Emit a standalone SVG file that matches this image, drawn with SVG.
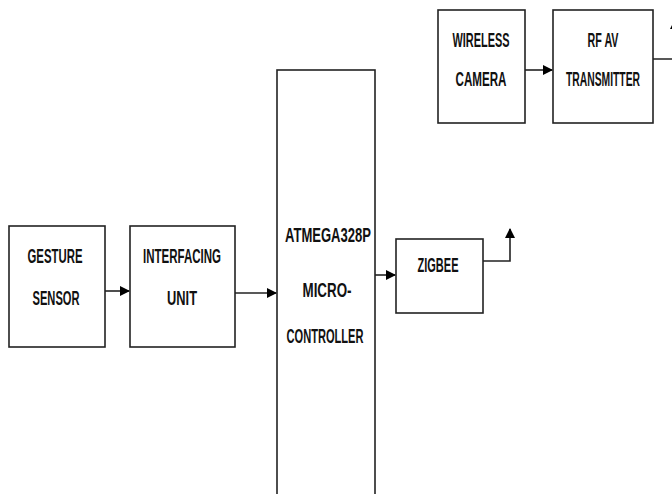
<svg xmlns="http://www.w3.org/2000/svg" width="672" height="494" viewBox="0 0 672 494">
<defs>
<marker id="ah" viewBox="0 0 10 10" refX="9" refY="5" markerWidth="10" markerHeight="10" markerUnits="userSpaceOnUse" orient="auto">
<path d="M0,0 L10,5 L0,10 z" fill="#000"/>
</marker>
</defs>
<style>
.box{fill:#fff;stroke:#222;stroke-width:1.6}
.t{font-family:"Liberation Sans",Arial,sans-serif;font-weight:bold;font-size:20px;fill:#111;text-anchor:middle}
.c{fill:none;stroke:#222;stroke-width:1.6}
</style>
<rect width="672" height="494" fill="#fff"/>
<g id="wireless-camera">
<rect class="box" x="438" y="10" width="87" height="113"/>
<text class="t" x="481" y="47" textLength="57" lengthAdjust="spacingAndGlyphs">WIRELESS</text>
<text class="t" x="481" y="86" textLength="51" lengthAdjust="spacingAndGlyphs">CAMERA</text>
</g>
<g id="rf-av-transmitter">
<rect class="box" x="553" y="10" width="100" height="113"/>
<text class="t" x="603" y="47" textLength="31" lengthAdjust="spacingAndGlyphs">RF AV</text>
<text class="t" x="603" y="86" textLength="74" lengthAdjust="spacingAndGlyphs">TRANSMITTER</text>
</g>
<g id="microcontroller">
<rect class="box" x="277" y="70" width="98" height="430"/>
<text class="t" x="328" y="242" textLength="86" lengthAdjust="spacingAndGlyphs">ATMEGA328P</text>
<text class="t" x="327" y="297" textLength="49" lengthAdjust="spacingAndGlyphs">MICRO-</text>
<text class="t" x="325" y="343" textLength="77" lengthAdjust="spacingAndGlyphs">CONTROLLER</text>
</g>
<g id="gesture-sensor">
<rect class="box" x="9" y="226" width="96" height="121"/>
<text class="t" x="55" y="263" textLength="55" lengthAdjust="spacingAndGlyphs">GESTURE</text>
<text class="t" x="56" y="305" textLength="47" lengthAdjust="spacingAndGlyphs">SENSOR</text>
</g>
<g id="interfacing-unit">
<rect class="box" x="130" y="226" width="105" height="121"/>
<text class="t" x="182" y="263" textLength="78" lengthAdjust="spacingAndGlyphs">INTERFACING</text>
<text class="t" x="182" y="305" textLength="30" lengthAdjust="spacingAndGlyphs">UNIT</text>
</g>
<g id="zigbee">
<rect class="box" x="396" y="239" width="87" height="74"/>
<text class="t" x="438" y="272" textLength="41" lengthAdjust="spacingAndGlyphs">ZIGBEE</text>
</g>
<g id="connectors">
<path class="c" d="M105,291 H129" marker-end="url(#ah)"/>
<path class="c" d="M235,293 H276" marker-end="url(#ah)"/>
<path class="c" d="M375,275 H395" marker-end="url(#ah)"/>
<path class="c" d="M525,70 H552" marker-end="url(#ah)"/>
<path class="c" d="M483,261 H510 V229" marker-end="url(#ah)"/>
<path class="c" d="M653,59 H675 V20" marker-end="url(#ah)"/>
</g>
</svg>
